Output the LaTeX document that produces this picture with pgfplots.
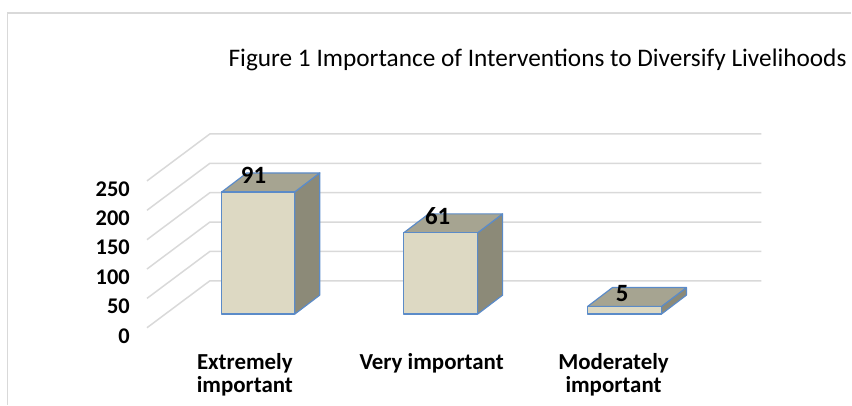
\documentclass[border=0pt]{standalone}
\usepackage{fontspec}
\setmainfont{Carlito}
\usepackage{pgfplots}
\pgfplotsset{compat=1.18}
\definecolor{gridc}{HTML}{D9D9D9}
\definecolor{frontc}{HTML}{DDD9C3}
\definecolor{topc}{HTML}{A6A491}
\definecolor{sidec}{HTML}{8C8A78}
\definecolor{edgec}{HTML}{5B8BC8}
\begin{document}
\begin{tikzpicture}
\begin{axis}[
  width=852bp, height=405bp, scale only axis,
  xmin=0, xmax=852, ymin=-130.95, ymax=557.82,
  axis line style={draw=none},
  major tick length=0pt,
  clip=false,
  /pgf/number format/assume math mode=true,
  ytick={0,50,100,150,200,250},
  yticklabel style={font=\bfseries\fontsize{22.5}{24}\selectfont, anchor=east, inner sep=0pt, xshift=130bp, yshift=-8bp},
  xtick={245,432,614},
  xticklabels={\strut Extremely\\important, \strut Very important, \strut Moderately\\important},
  xticklabel style={font=\bfseries\fontsize{23}{22.7}\selectfont, align=center, anchor=north, inner sep=0pt, yshift=52bp},
]
% chart frame
\draw[gridc, line width=1.5bp] (axis cs:7.5,-130.95) -- (axis cs:7.5,536.2) -- (axis cs:852,536.2);
% walls' gridlines
\addplot[gridc, line width=1.5bp, unbounded coords=jump] coordinates {
 (147,0) (210,80) (762,80) (nan,nan)
 (147,50) (210,130) (762,130) (nan,nan)
 (147,100) (210,180) (762,180) (nan,nan)
 (147,150) (210,230) (762,230) (nan,nan)
 (147,200) (210,280) (762,280) (nan,nan)
 (147,250) (210,330) (762,330)
};
% Bar 1 (Extremely important)
\addplot[fill=sidec, draw=edgec, line width=1.2bp, line join=round] coordinates {(295,23.3) (320,55.6) (320,263.6) (295,231.3)} --cycle;
\addplot[fill=topc, draw=edgec, line width=1.2bp, line join=round] coordinates {(222,231.3) (295,231.3) (320,263.6) (247,263.6)} --cycle;
\addplot[fill=frontc, draw=edgec, line width=1.2bp, line join=round] coordinates {(222,23.3) (295,23.3) (295,231.3) (222,231.3)} --cycle;
% Bar 2 (Very important)
\addplot[fill=sidec, draw=edgec, line width=1.2bp, line join=round] coordinates {(478,23.3) (503,55.6) (503,193.9) (478,161.6)} --cycle;
\addplot[fill=topc, draw=edgec, line width=1.2bp, line join=round] coordinates {(404,161.6) (478,161.6) (503,193.9) (429,193.9)} --cycle;
\addplot[fill=frontc, draw=edgec, line width=1.2bp, line join=round] coordinates {(404,23.3) (478,23.3) (478,161.6) (404,161.6)} --cycle;
% Bar 3 (Moderately important)
\addplot[fill=sidec, draw=edgec, line width=1.2bp, line join=round] coordinates {(662,23.3) (687,55.6) (687,68.5) (662,36.2)} --cycle;
\addplot[fill=topc, draw=edgec, line width=1.2bp, line join=round] coordinates {(588,36.2) (662,36.2) (687,68.5) (613,68.5)} --cycle;
\addplot[fill=frontc, draw=edgec, line width=1.2bp, line join=round] coordinates {(588,23.3) (662,23.3) (662,36.2) (588,36.2)} --cycle;
% data labels
\addplot[draw=none, mark=none, nodes near coords, point meta=explicit symbolic,
  nodes near coords style={anchor=center, inner sep=0pt, font=\bfseries\fontsize{25}{27}\selectfont}]
  table[meta=label] {
x y label
253.7 259.7 91
438 190.8 61
622.7 57.8 5
};
% title
\node[anchor=base, inner sep=0pt, font=\fontsize{25.4}{30}\selectfont] at (axis cs:538,444.4) {Figure 1 Importance of Interventions to Diversify Livelihoods};
\end{axis}
\end{tikzpicture}
\end{document}
